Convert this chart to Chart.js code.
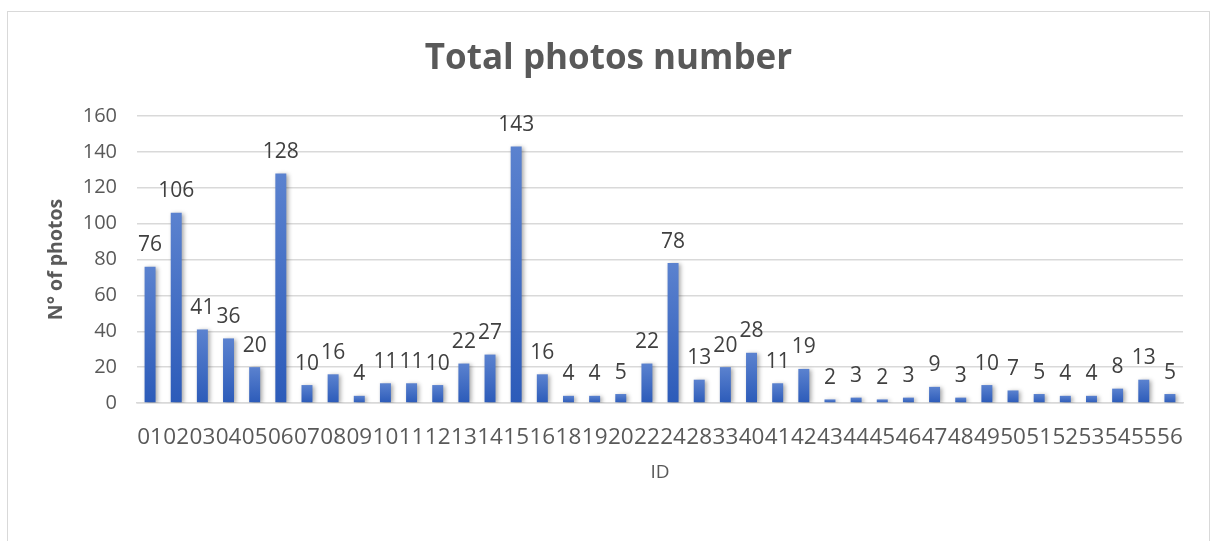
<!DOCTYPE html>
<html>
<head>
<meta charset="utf-8">
<script src="https://cdn.jsdelivr.net/npm/chart.js@4/dist/chart.umd.min.js"></script>
<style>
  html, body { margin: 0; padding: 0; background: #fff; overflow: hidden; }
  #frame {
    position: absolute; left: 7px; top: 11px;
    width: 1201px; height: 540px;
    border: 1px solid #d9d9d9;
  }
</style>
</head>
<body>
<div id="frame"><canvas id="photosChart"></canvas></div>
<script>
const ids = ['01','02','03','04','05','06','07','08','09','10','11','12','13','14','15','16','18','19','20','22',
             '24','28','33','40','41','42','43','44','45','46','47','48','49','50','51','52','53','54','55','56'];
const photos = [76,106,41,36,20,128,10,16,4,11,11,10,22,27,143,16,4,4,5,22,
                78,13,20,28,11,19,2,3,2,3,9,3,10,7,5,4,4,8,13,5];
const yTicks = [0,20,40,60,80,100,120,140,160];

const FONT = '"Open Sans", "Liberation Sans", sans-serif';
const GREY = '#595959';

// value labels above each bar
const barLabels = {
  id: 'barLabels',
  afterDatasetsDraw(chart) {
    const ctx = chart.ctx;
    const meta = chart.getDatasetMeta(0);
    ctx.save();
    ctx.font = '21px ' + FONT;
    ctx.fillStyle = '#404040';
    ctx.textAlign = 'center';
    ctx.textBaseline = 'bottom';
    meta.data.forEach((bar, i) => {
      ctx.fillText(String(photos[i]), bar.x, bar.y - 11);
    });
    ctx.restore();
  }
};

// soft shadow behind bars
const barShadow = {
  id: 'barShadow',
  beforeDatasetsDraw(chart) {
    const ctx = chart.ctx;
    ctx.save();
    ctx.shadowColor = 'rgba(0,0,0,0.35)';
    ctx.shadowBlur = 4;
    ctx.shadowOffsetX = 2;
    ctx.shadowOffsetY = 1;
  },
  afterDatasetsDraw(chart) {
    chart.ctx.restore();
  }
};

const photosCtx = document.getElementById('photosChart').getContext('2d');
new Chart(photosCtx, {
  type: 'bar',
  data: {
    labels: ids,
    datasets: [{
      data: photos,
      barPercentage: 0.42,
      categoryPercentage: 1,
      backgroundColor: (c) => {
        const chart = c.chart;
        const y = chart.scales.y;
        if (!y || c.dataIndex === undefined) return '#4472c4';
        const top = y.getPixelForValue(photos[c.dataIndex]);
        const base = y.getPixelForValue(0);
        if (!isFinite(top) || !isFinite(base) || top === base) return '#4472c4';
        const g = chart.ctx.createLinearGradient(0, top, 0, base);
        g.addColorStop(0, '#5b82cf');
        g.addColorStop(1, '#2c5bb9');
        return g;
      }
    }]
  },
  options: {
    responsive: true,
    maintainAspectRatio: false,
    animation: false,
    layout: { padding: { left: 0, right: 0, top: 0, bottom: 68 } },
    plugins: {
      legend: { display: false },
      tooltip: { enabled: false },
      title: {
        display: true,
        text: 'Total photos number',
        color: GREY,
        font: { family: FONT, size: 35, weight: 'bold' },
        padding: { top: 26, bottom: 36 }
      }
    },
    scales: {
      x: {
        afterFit: (s) => { s.height = 81; },
        grid: { display: false, drawTicks: false },
        border: { display: true, color: '#d9d9d9', width: 1.5 },
        ticks: {
          color: GREY,
          font: { family: FONT, size: 22.5 },
          padding: 21,
          autoSkip: false,
          maxRotation: 0,
          minRotation: 0
        },
        title: {
          display: true,
          text: 'ID',
          color: GREY,
          font: { family: FONT, size: 19 },
          padding: { top: 0, bottom: 0 }
        }
      },
      y: {
        min: 0,
        max: 160,
        afterBuildTicks: (s) => { s.ticks = yTicks.map(v => ({ value: v })); },
        afterFit: (s) => { s.width = 129; },
        grid: { color: '#d9d9d9', lineWidth: 1.5, drawTicks: false },
        border: { display: false },
        ticks: {
          color: GREY,
          font: { family: FONT, size: 20 },
          padding: 20
        },
        title: {
          display: true,
          text: 'N° of photos',
          color: GREY,
          font: { family: FONT, size: 19.5, weight: 'bold' },
          padding: { top: 37, bottom: 37 }
        }
      },
      // empty right-hand spacer so the title stays centred on the frame
      yRight: {
        position: 'right',
        afterFit: (s) => { s.width = 26; },
        grid: { display: false, drawTicks: false },
        border: { display: false },
        ticks: { display: false }
      }
    }
  },
  plugins: [barShadow, barLabels]
});
</script>
</body>
</html>
